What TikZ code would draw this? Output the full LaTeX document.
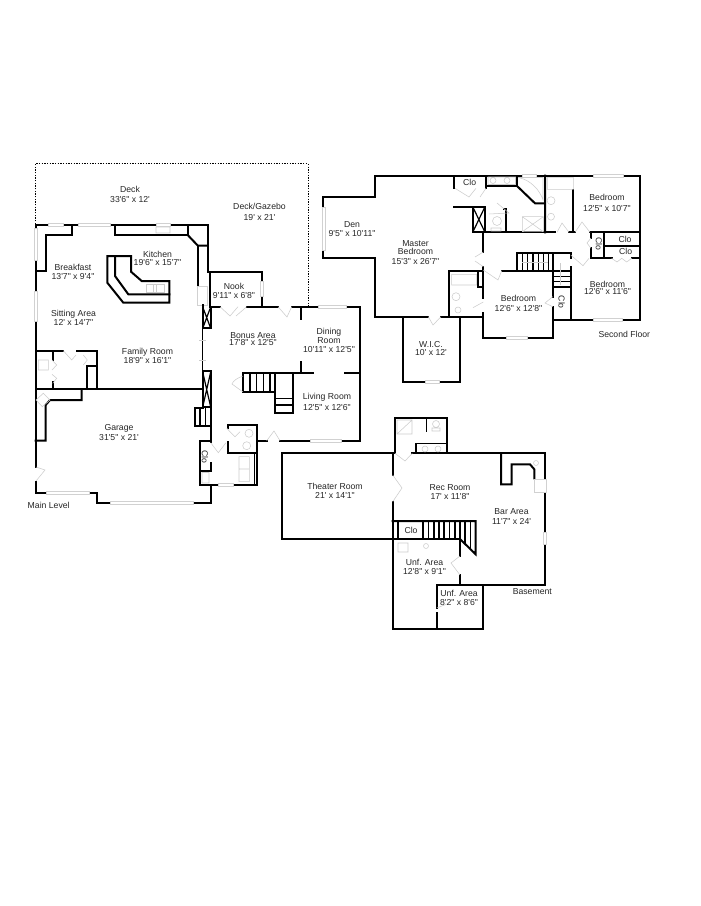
\documentclass[tikz,border=0pt]{standalone}
\usepackage{fontspec}
\newfontfamily\planfont{Liberation Sans}
\tikzset{
wall/.style={line width=1.5pt,line cap=rect},
thinwall/.style={line width=0.9pt},
fixture/.style={line width=0.4pt,color=black!20},
pane/.style={line width=0.4pt,draw=black!18,fill=white},
deckline/.style={line width=0.6pt,dash pattern=on 1pt off 1pt},
room/.style={font=\planfont\fontsize{6.5}{6.75}\selectfont,align=center,inner sep=0pt,text=black!85}}

\begin{document}
\begin{tikzpicture}[x=0.75pt,y=0.75pt,yscale=-1,xscale=1]
\useasboundingbox (0,0) rectangle (700,906);
\fill[white] (0,0) rectangle (700,906);

%Shape: Deck outline
\draw[deckline] (35.5,224) -- (35.5,163.5) -- (308,163.5) -- (308,306);

%Shape: Main level outer walls
\draw[wall] (35.5,466.5) -- (35.5,225) -- (207.7,225) -- (207.7,271.7) -- (261.7,271.7) -- (261.7,306.7) ;
\draw[wall] (35.5,481.7) -- (35.5,492.7) -- (97.3,492.7) -- (97.3,502.7) -- (210.7,502.7) -- (210.7,485) ;
\draw[wall] (210,306.7) -- (220,306.7) (246.7,306.7) -- (278.3,306.7) (291.7,306.7) -- (360,306.7) -- (360,440.7) -- (280,440.7) ;
\draw[wall] (256.7,440.7) -- (266.7,440.7) ;
%Shape: Laundry
\draw[wall] (210.7,426) -- (210.7,442) (210.7,440.7) -- (200,440.7) -- (200,484.5) -- (256.7,484.5) -- (256.7,425.3) -- (228.3,425.3) -- (228.3,428) ;
\draw[wall] (200,471) -- (210.7,471) -- (210.7,463.3) (228.3,441.7) -- (228.3,453.3) -- (256.7,453.3) ;
\draw[thinwall] (254.3,453.3) -- (254.3,484.5) ;
%Shape: Kitchen counters
\draw[wall] (115,225) -- (115,235) -- (187.7,235) -- (187.7,225) ;
\draw[wall] (71.7,225) -- (71.7,235) -- (45.7,235) -- (45.7,270.7) -- (35.5,270.7) ;
\draw[wall] (187.7,235) -- (197.7,245.5) -- (207.7,245.5) ;
\draw[wall] (197.7,245.5) -- (197.7,286) ;
\draw[pane] (197.7,286) rectangle (207.7,305) ;
\draw[thinwall] (210,271.7) -- (210,306.7) ;
%Shape: Kitchen island
\draw[wall] (107.3,256) -- (131,256) -- (131,271.7) -- (141.7,281) -- (169.3,281) -- (169.3,302.7) -- (123.3,302.7) -- (107.3,282.7) -- cycle ;
\draw[wall] (115,256) -- (115,276) -- (128.3,294.3) -- (169.3,294.3) ;
\draw[fixture] (146,284) rectangle (164,292) (153,284) -- (153,292) (156,284) -- (156,292) ;
%Shape: Fireplaces and wall between family room and bonus area
\draw[wall] (202.7,305) -- (202.7,328.3) (210.7,306.7) -- (210.7,328.3) (202.7,328.3) -- (210.7,328.3) ;
\draw[thinwall] (202.7,307) -- (210.7,328.3) (210.7,307) -- (202.7,328.3) ;
\draw[thinwall] (202.7,328.3) -- (202.7,371) ;
\draw[fixture] (199,340) -- (206,340) (199,360) -- (206,360) ;
\draw[wall] (202.7,371) -- (210.7,371) -- (210.7,426) (202.7,371) -- (202.7,407.3) -- (210.7,407.3) ;
\draw[thinwall] (202.7,372) -- (210.7,407) (210.7,372) -- (202.7,407) ;
\draw[wall] (195,407.7) -- (195,426) -- (210.7,426) (195,407.7) -- (202.7,407.7) ;
\draw[thinwall] (200,407.7) -- (200,426) (205.7,407.7) -- (205.7,426) ;
%Shape: Closet and garage walls
\draw[wall] (35.5,350.7) -- (63.3,350.7) (76.7,350.7) -- (97,350.7) -- (97,389) ;
\draw[wall] (53.3,350.7) -- (53.3,360) (53.3,381.7) -- (53.3,389) (87.3,389) -- (87.3,365.7) -- (97,365.7) ;
\draw[wall] (35.5,389.3) -- (202.7,389.3) ;
\draw[wall] (81.7,389.3) -- (81.7,400) -- (50,400) -- (45.7,405) -- (45.7,440.7) -- (35.5,440.7) ;
%Shape: Bonus area and stairs
\draw[wall] (300.7,306.7) -- (300.7,319.3) (300.7,361.7) -- (300.7,373.3) ;
\draw[wall] (243.3,373.3) -- (313.3,373.3) (345,373.3) -- (360,373.3) ;
\draw[wall] (243.3,373.3) -- (243.3,392.3) -- (275,392.3) -- (275,412.7) -- (293.3,412.7) -- (293.3,373.3) ;
\draw[thinwall] (250,373.3) -- (250,392.3) (256.7,373.3) -- (256.7,392.3) (263.3,373.3) -- (263.3,392.3) (270,373.3) -- (270,392.3) (275,373.3) -- (275,392.3) ;
\draw[thinwall] (275,398.5) -- (293.3,398.5) (275,405) -- (293.3,405) ;
\draw[fixture] (243,376) .. controls (237,378) and (233,381) .. (232,384) -- (243,392) ;

%Shape: Main level windows
\draw[pane] (48,223.3) rectangle (63,226.7) (78,223.3) rectangle (110,226.7) (156,223.3) rectangle (170,226.7) ;
\draw[pane] (34,228) rectangle (37,260) (34,291.7) rectangle (37,321.7) (260,281.7) rectangle (263.3,296.7) ;
\draw[pane] (46,491) rectangle (89,494) (110,501) rectangle (193,504.4) (218,482.8) rectangle (233,486.2) (310,439) rectangle (341.7,442.3) (318,305) rectangle (346.7,308.3) ;
%Shape: Main level fixtures and doors
\draw[fixture] (156,227) rectangle (170,233) (38.3,360) rectangle (48.3,370) (220,306.7) -- (230,316) -- (238,306.7) (246.7,306.7) -- (236,316) (278,306.7) -- (287,317) -- (291.7,306.7) ;
\draw[fixture] (63.3,350.7) -- (71.7,360) -- (76,355) (83.3,355) -- (87.3,360) -- (83.3,365) (52,360) -- (56.7,365) -- (52,370) (52,374.3) -- (56.7,378.3) -- (52.7,383.3) ;
\draw[fixture] (36,467) -- (45,470) -- (36,481) (266.7,440.7) -- (274,431) -- (280,440.7) (226.7,428.3) -- (235,436.7) -- (240,431.7) (210.7,442.7) -- (218.3,452.7) -- (226,442.7) ;
\draw[fixture] (249,433.3) circle (4) (246.7,445.7) circle (4) (239,456.7) rectangle (249.3,481.7) (239,469) -- (249.3,469) (202,472.5) rectangle (209,483) (36,400) -- (43.3,393.3) -- (50,400) -- (42.3,406.7) -- cycle ;

%Shape: Second floor outer walls
\draw[wall] (375,196.7) -- (375,175.7) -- (640,175.7) -- (640,320) -- (552.7,320) (552.7,337.7) -- (483.3,337.7) -- (483.3,313.3) ;
\draw[wall] (375,196.7) -- (323.3,196.7) -- (323.3,258.3) -- (375,258.3) -- (375,316.7) -- (428.3,316.7) (441,316.7) -- (483.3,316.7) ;
\draw[wall] (403.3,316.7) -- (403.3,381.7) -- (460,381.7) -- (460,316.7) ;
%Shape: Second floor inner walls
\draw[wall] (454.3,175.7) -- (454.3,188.3) (485.7,175.7) -- (485.7,188.3) ;
\draw[wall] (516.7,185.7) -- (535,203.3) -- (545,203.3) (545,175.7) -- (545,232.3) ;
\draw[wall] (485.7,185.7) -- (516.7,185.7) -- (516.7,175.7) ;
\draw[wall] (573.3,190) -- (573.3,232.3) (454.3,206.7) -- (485,206.7) ;
\draw[wall] (472.7,206.7) -- (472.7,232.3) -- (485,232.3) -- (485,206.7) ;
\draw[thinwall] (472.7,206.7) -- (485,232.3) (485,206.7) -- (472.7,232.3) ;
\draw[wall] (485,232.3) -- (555,232.3) (569,232.3) -- (575,232.3) (590,232.3) -- (640,232.3) ;
\draw[wall] (506,209) -- (506,232.3) (504,209) -- (506,209) ;
\draw[wall] (483.3,232.3) -- (483.3,251.7) (483.3,266.7) -- (483.3,298.3) (483.3,313.3) -- (483.3,316.7) ;
\draw[wall] (449.3,270.7) -- (483.3,270.7) (449.3,270.7) -- (449.3,316.7) (477.7,270.7) -- (477.7,286.7) -- (483.3,286.7) ;
\draw[wall] (501.7,270.7) -- (552.7,270.7) (516.7,253.3) -- (570.7,253.3) (516.7,253.3) -- (516.7,270.7) ;
\draw[thinwall] (522.3,253.3) -- (522.3,270.7) (527.7,253.3) -- (527.7,270.7) (533,253.3) -- (533,270.7) (538.3,253.3) -- (538.3,270.7) (543.7,253.3) -- (543.7,270.7) (548.3,253.3) -- (548.3,270.7) ;
\draw[wall] (552.7,253.3) -- (552.7,296.7) (552.7,306.7) -- (552.7,337.7) ;
\draw[thinwall] (552.7,271) -- (570.7,271) (552.7,276.7) -- (570.7,276.7) (552.7,281.7) -- (570.7,281.7) ;
\draw[wall] (552.7,286.7) -- (570.7,286.7) ;
\draw[wall] (570.7,253.3) -- (570.7,258) (570.7,266.7) -- (570.7,320) ;
\draw[wall] (590.7,232.3) -- (590.7,238) (590.7,248.3) -- (590.7,258.3) -- (611.7,258.3) (631.7,258.3) -- (640,258.3) ;
\draw[wall] (604.3,232.3) -- (604.3,258.3) (604.3,245.7) -- (640,245.7) ;
%Shape: Second floor windows
\draw[pane] (322,207) rectangle (325,250) (522.7,174) rectangle (536.7,177.3) (593,174) rectangle (623.7,177.3) (593,318.3) rectangle (622,321.7) ;
\draw[pane] (506,336) rectangle (527,339.3) (425,380) rectangle (439,383.3) ;
%Shape: Second floor fixtures and doors
\draw[fixture] (488,177) rectangle (515.5,184.5) (493,180.5) circle (3) (507,180.5) circle (3) (520,178) .. controls (530,180) and (540,190) .. (543,200) -- (543,177.5) -- (518,177.5) ;
\draw[fixture] (547.3,177.3) rectangle (573.3,189.3) (551,200.7) circle (4) (551,216.7) circle (3.5) (522.3,216.7) rectangle (543.3,231.7) (522.3,216.7) -- (543.3,231.7) (543.3,216.7) -- (522.3,231.7) (497,221) circle (4.5) (491,228) rectangle (501,231) ;
\draw[fixture] (451.7,274.3) rectangle (476.7,285) (456,296.7) circle (4) (458,310) circle (3) ;
\draw[fixture] (455,188.3) -- (469,197) -- (476,188.3) (486,188.3) -- (480,197) (497,203) -- (509,213) -- (489,214) (557,232.3) -- (562,223) -- (569,232.3) (575,232.3) -- (582,222) -- (590,232.3) ;
\draw[fixture] (591,238) -- (587,243) -- (591,248.3) (611.7,258.3) -- (617,262) -- (621.7,258.3) -- (626.7,262) -- (631.7,258.3) (570.7,255) -- (583,265.7) -- (589,258.3) ;
\draw[fixture] (483.3,252) -- (475,257) (483.3,266.7) -- (475,261) (483.3,270) -- (498,280) -- (501.7,270.7) (483.3,302) -- (473,307.7) (552.7,296.7) -- (545,303) -- (552.7,306.7) (428.3,316.7) -- (433,325) -- (441,316.7) ;
\draw[fixture] (522.3,262.3) -- (548.3,262.3) (560,263) -- (560,285) ;

%Shape: Basement outer walls
\draw[wall] (392.7,453.3) -- (282.3,453.3) -- (282.3,539) -- (460,539) ;
\draw[wall] (395,453.3) -- (395,417.7) -- (447.3,417.7) -- (447.3,453.3) ;
\draw[wall] (412.3,453.3) -- (545,453.3) -- (545,585) -- (483.3,585) -- (483.3,629) -- (392.7,629) -- (392.7,501.7) ;
\draw[wall] (392.7,475) -- (392.7,453.3) ;
%Shape: Basement inner walls
\draw[thinwall] (416,453.3) -- (416,443.3) -- (447.3,443.3) (426.7,417.7) -- (426.7,431.7) ;
\draw[wall] (392.7,521) -- (475.7,521) -- (475.7,554.3) -- (460,539) ;
\draw[wall] (398.3,521) -- (398.3,539) (423.3,521) -- (423.3,539) ;
\draw[thinwall] (428.5,521) -- (428.5,539) (434,521) -- (434,539) (439,521) -- (439,539) (444,521) -- (444,539) (449.5,521) -- (449.5,539) (455,521) -- (455,539) (460,521) -- (460,539) (465,521) -- (465,544) (470.5,521) -- (470.5,549) ;
\draw[wall] (460,539) -- (460,556) (460,575) -- (460,585) (436.7,585) -- (483.3,585) (436.7,585) -- (436.7,608) (436.7,613) -- (436.7,629) ;
\draw[wall] (501,453.3) -- (501,484.3) -- (511.7,484.3) -- (511.7,464.3) -- (530,464.3) -- (534.3,469.3) -- (534.3,478.3) ;
%Shape: Basement windows and fixtures
\draw[pane] (534.5,479.5) rectangle (546,492.7) (543.3,532.7) rectangle (546.7,544.3) ;
\draw[fixture] (397,420) rectangle (412,434) (397,434) -- (412,420) (436,424) circle (3.5) (432,428) rectangle (440,431) (425,449) circle (3) (438,449) circle (3) (536,463) circle (2.5) ;
\draw[fixture] (398,543) rectangle (408,552) (426,546) circle (2.5) ;
\draw[fixture] (395,453.3) -- (405,461) -- (412.3,453.3) (392.7,475) -- (402,488) -- (392.7,501.7) (460,556) -- (451,563) -- (460,575) (436.7,608) -- (447,604) ;

%Labels
\node[room] (deck) at (130,194) {Deck\\[0.75pt]33'6" x 12'};
\node[room] (gazebo) at (259.5,212) {Deck/Gazebo\\[1pt]19' x 21'};
\node[room] (kitchen) at (157.5,258.5) {Kitchen\\[-0.5pt]19'6" x 15'7"};
\node[room] (breakfast) at (73,272) {Breakfast\\[0.25pt]13'7" x 9'4"};
\node[room] (sitting) at (73.5,318) {Sitting Area\\12' x 14'7"};
\node[room] (family) at (147.5,355.5) {Family Room\\18'9" x 16'1"};
\node[room] (nook) at (234,291) {Nook\\[0.5pt]9'11" x 6'8"};
\node[room] (bonus) at (253,339) {Bonus Area\\[-1pt]17'8" x 12'5"};
\node[room] (dining) at (329,340.7) {Dining\\Room\\10'11" x 12'5"};
\node[room] (living) at (327,402) {Living Room\\[1.5pt]12'5" x 12'6"};
\node[room] (garage) at (119,432.5) {Garage\\[0.5pt]31'5" x 21'};
\node[room,rotate=-90] (cloa) at (205,456.7) {Clo};
\node[room] (mainlevel) at (48.7,505.7) {Main Level};

\node[room] (den) at (352,229) {Den\\[0.25pt]9'5" x 10'11"};
\node[room] (master) at (415.5,252.3) {Master\\[-0.75pt]Bedroom\\[0.75pt]15'3" x 26'7"};
\node[room] (wic) at (431,348.3) {W.I.C.\\[-0.75pt]10' x 12'};
\node[room] (bedrooma) at (518.5,303.7) {Bedroom\\[0.75pt]12'6" x 12'8"};
\node[room] (bedroomb) at (607.5,287.5) {Bedroom\\[-1.5pt]12'6" x 11'6"};
\node[room] (bedroomc) at (607,202.7) {Bedroom\\[1.25pt]12'5" x 10'7"};
\node[room] (clob) at (469.7,182.3) {Clo};
\node[room] (cloc) at (625,239.7) {Clo};
\node[room] (clod) at (625.7,251.5) {Clo};
\node[room,rotate=-90] (cloe) at (599,244) {Clo};
\node[room,rotate=-90] (clof) at (561.7,302.3) {Clo};
\node[room] (second) at (624.3,334) {Second Floor};

\node[room] (theater) at (335,491) {Theater Room\\[0.25pt]21' x 14'1"};
\node[room] (rec) at (450,492) {Rec Room\\[0.25pt]17' x 11'8"};
\node[room] (bar) at (511.5,516.8) {Bar Area\\[0.5pt]11'7" x 24'};
\node[room] (clog) at (411,530.7) {Clo};
\node[room] (unfa) at (424.5,566.8) {Unf. Area\\12'8" x 9'1"};
\node[room] (unfb) at (459,597.8) {Unf. Area\\[-0.5pt]8'2" x 8'6"};
\node[room] (basement) at (532.3,592) {Basement};

\end{tikzpicture}
\end{document}
